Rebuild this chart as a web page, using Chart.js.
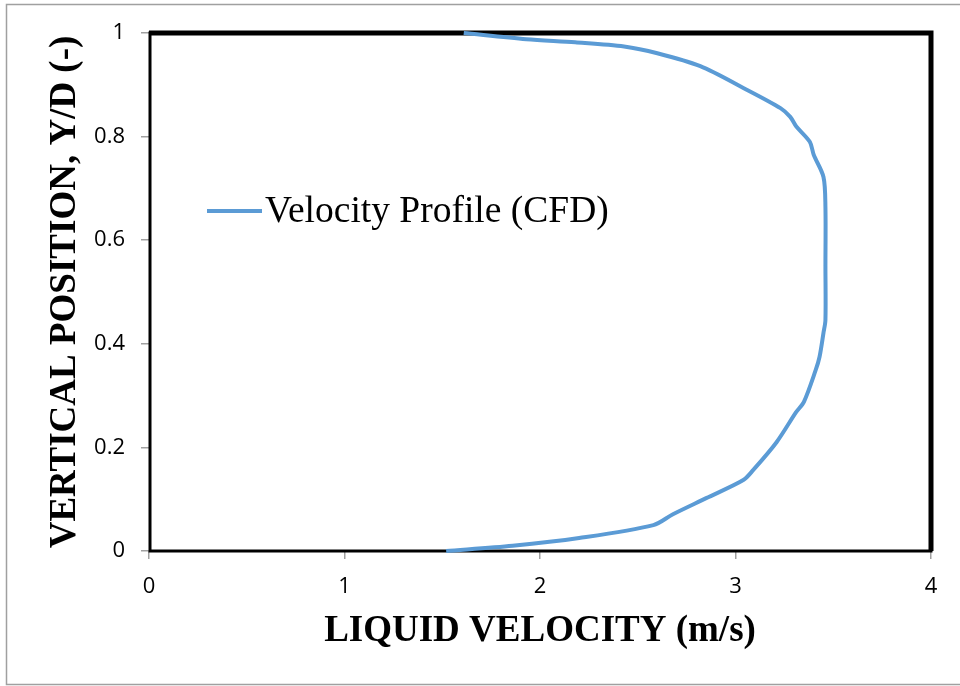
<!DOCTYPE html>
<html>
<head>
<meta charset="utf-8">
<script src="https://cdn.jsdelivr.net/npm/chart.js@4.4.1/dist/chart.umd.min.js"></script>
<style>
  body { margin: 0; background: #fff; }
  #wrap { width: 960px; height: 686px; position: relative; }
</style>
</head>
<body>
<div id="wrap"><canvas id="profileChart" width="960" height="686"></canvas></div>
<script>
// CFD velocity profile across the pipe, top wall to bottom wall
const velocity = [1.61, 1.93, 2.18, 2.43, 2.60, 2.82, 3.04, 3.23, 3.28, 3.31, 3.38, 3.40, 3.45, 3.46, 3.46, 3.46,
                  3.45, 3.43, 3.41, 3.35, 3.31, 3.21, 3.09, 3.04, 2.85, 2.68, 2.58, 2.20, 1.86, 1.52];
const position = [1.000, 0.988, 0.982, 0.974, 0.961, 0.936, 0.894, 0.855, 0.838, 0.820, 0.790, 0.765, 0.722, 0.664, 0.550, 0.446,
                  0.421, 0.375, 0.349, 0.288, 0.268, 0.210, 0.156, 0.137, 0.102, 0.071, 0.050, 0.025, 0.010, 0.000];
const xTicks = [0, 1, 2, 3, 4];
const yTicks = [0, 0.2, 0.4, 0.6, 0.8, 1];

const points = velocity.map((v, i) => ({ x: v, y: position[i] }));

const lineBlue = '#5b9bd5';
const serif = '"Liberation Serif", "Times New Roman", serif';
const sans = '"Open Sans", "Liberation Sans", sans-serif';

// frame around the plot, outer border, and the legend box inside the plot
const framePlugin = {
  id: 'frame',
  beforeDatasetsDraw(chart) {
    const { ctx, chartArea: a } = chart;
    ctx.save();
    ctx.strokeStyle = '#a0a0a0';
    ctx.lineWidth = 1.5;
    ctx.beginPath();
    ctx.moveTo(960, 4.5); ctx.lineTo(6.5, 4.5); ctx.lineTo(6.5, 684.5); ctx.lineTo(960, 684.5);
    ctx.stroke();

    ctx.strokeStyle = '#000';
    ctx.lineWidth = 3;
    ctx.strokeRect(a.left + 1, a.top, a.right - a.left - 1, a.bottom - a.top);
    ctx.lineWidth = 5;
    ctx.beginPath();
    ctx.moveTo(a.left, a.top); ctx.lineTo(a.right, a.top); ctx.lineTo(a.right, a.bottom);
    ctx.stroke();
    ctx.restore();
  },
  afterDraw(chart) {
    const { ctx } = chart;
    const ds = chart.data.datasets[0];
    ctx.save();
    ctx.strokeStyle = ds.borderColor;
    ctx.lineWidth = 4;
    ctx.beginPath();
    ctx.moveTo(207, 211); ctx.lineTo(262, 211);
    ctx.stroke();
    ctx.fillStyle = '#000';
    ctx.font = '37.5px ' + serif;
    ctx.textBaseline = 'middle';
    ctx.fillText(ds.label, 265, 212);
    ctx.restore();
  }
};

const ctx = document.getElementById('profileChart').getContext('2d');
const profileChart = new Chart(ctx, {
  type: 'scatter',
  data: {
    datasets: [{
      label: 'Velocity Profile (CFD)',
      data: points,
      showLine: true,
      borderColor: lineBlue,
      backgroundColor: lineBlue,
      borderWidth: 4,
      pointRadius: 0,
      tension: 0.3,
      clip: false
    }]
  },
  options: {
    responsive: false,
    animation: false,
    layout: { padding: { left: 0, top: 33, right: 29, bottom: 0 } },
    plugins: {
      legend: { display: false },
      tooltip: { enabled: false }
    },
    scales: {
      x: {
        type: 'linear',
        min: 0,
        max: 4,
        afterBuildTicks(scale) { scale.ticks = xTicks.map(v => ({ value: v })); },
        afterFit(scale) { scale.height = 135; },
        grid: { drawOnChartArea: false, drawTicks: true, tickLength: 8, color: '#a0a0a0', lineWidth: 1.5 },
        border: { display: false },
        ticks: {
          padding: 15,
          color: '#000',
          font: { family: sans, size: 22 },
          callback: v => String(+v.toFixed(1))
        },
        title: {
          display: true,
          text: 'LIQUID VELOCITY (m/s)',
          color: '#000',
          font: { family: serif, size: 37, weight: 'bold' },
          padding: { top: 0, bottom: 32 }
        }
      },
      y: {
        type: 'linear',
        min: 0,
        max: 1,
        afterBuildTicks(scale) { scale.ticks = yTicks.map(v => ({ value: v })); },
        afterFit(scale) { scale.width = 149; },
        grid: { drawOnChartArea: false, drawTicks: true, tickLength: 8, color: '#a0a0a0', lineWidth: 1.5 },
        border: { display: false },
        ticks: {
          padding: 16,
          color: '#000',
          font: { family: sans, size: 22 },
          callback: v => String(+v.toFixed(1))
        },
        title: {
          display: true,
          text: 'VERTICAL POSITION, Y/D (-)',
          color: '#000',
          font: { family: serif, size: 37, weight: 'bold' },
          padding: { top: 43, bottom: 0 }
        }
      }
    }
  },
  plugins: [framePlugin]
});
</script>
</body>
</html>
